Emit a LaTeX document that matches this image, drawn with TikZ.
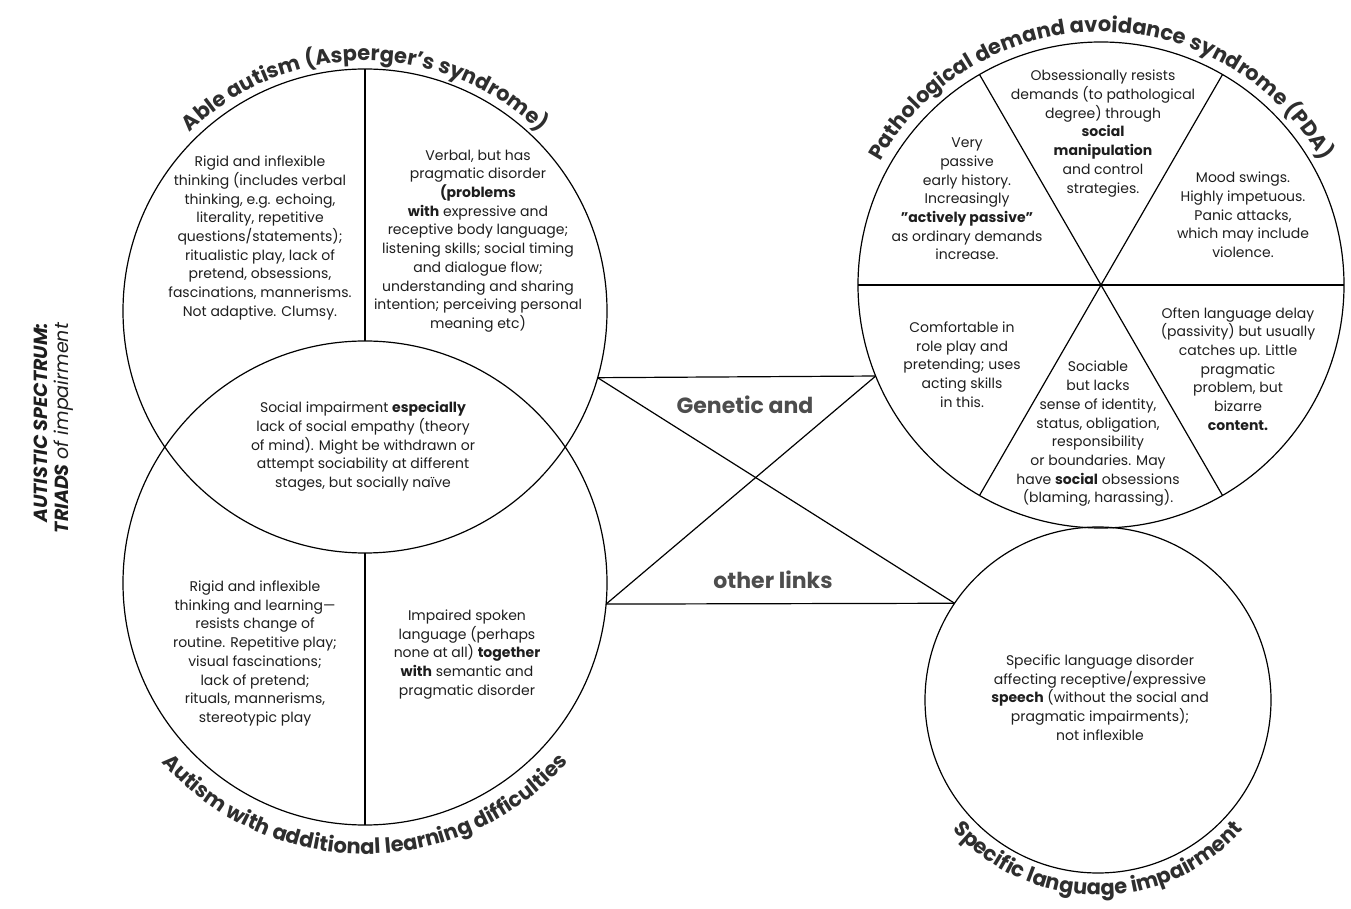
\documentclass[tikz,border=0pt]{standalone}
\usepackage{fontspec}
\setmainfont{Poppins}
\usetikzlibrary{decorations.text}
\definecolor{ink}{HTML}{1E1E1E}
\definecolor{titleink}{HTML}{2E2E2E}
\newcommand{\mytitlefont}{\fontsize{21}{21}\selectfont\bfseries}
\begin{document}
\begin{tikzpicture}[x=1pt,y=1pt,
  circ/.style={draw, circle, line width=1.2pt, inner sep=0pt, outer sep=0pt},
  body/.style={align=center, inner sep=0pt, text=ink, font=\fontsize{14}{18.7}\selectfont},
  link/.style={line width=1.2pt},
  bigtxt/.style={font=\fontsize{22}{22}\selectfont\bfseries, text=titleink!85!white, inner sep=0pt},
  arctitle/.style={decorate, decoration={text along path, text align=center, text color=titleink}}
]
\useasboundingbox (0,0) rectangle (1351,908);

% circles
\node[circ, minimum size=484pt] (A) at (365,597) {};
\node[circ, minimum size=484pt] (B) at (365,325) {};
\node[circ, minimum size=486pt] (P) at (1101,623) {};
\node[circ, minimum size=346pt] (S) at (1098,208) {};

% dividers
\draw[link] (A.north) -- (B.north);
\draw[link] (A.south) -- (B.south);
\draw[link] (P.west) -- (P.east);
\draw[link] (P.60) -- (P.240);
\draw[link] (P.120) -- (P.300);

% links
\draw[link] (A.-16.3) -- (P.202.8);
\draw[link] (B.-5) -- (S.146.3);
\draw[link] (A.-16.3) -- (S.146.3);
\draw[link] (B.-5) -- (P.202.8);

% arc titles
\path[arctitle, decoration={text={|\mytitlefont|Able autism (Asperger's syndrome)}}]
  ([shift={(150:250)}]A.center) arc[start angle=150, end angle=30, radius=250];
\path[arctitle, decoration={text={|\mytitlefont|Autism with additional learning difficulties}}]
  ([shift={(-165:271)}]B.center) arc[start angle=-165, end angle=-15, radius=271];
\path[arctitle, decoration={text={|\mytitlefont|Pathological demand avoidance syndrome (PDA)}}]
  ([shift={(170:253)}]P.center) arc[start angle=170, end angle=10, radius=253];
\path[arctitle, decoration={text={|\mytitlefont|Specific language impairment}}]
  ([shift={(-160:195)}]S.center) arc[start angle=-160, end angle=-20, radius=195];

% side title
\node[rotate=90, align=right, text=ink, inner sep=0pt, font=\fontsize{19}{21}\selectfont] (side) at (54,480)
  {\textbf{\textit{AUTISTIC SPECTRUM:}}\\\textbf{\textit{TRIADS}} \textit{of impairment}};

% able autism
\node[body] (a1) at (260,670) {Rigid and inflexible\\thinking (includes verbal\\thinking, e.g. echoing,\\literality, repetitive\\questions/statements);\\ritualistic play, lack of\\pretend, obsessions,\\fascinations, mannerisms.\\Not adaptive. Clumsy.};
\node[body] (a2) at (478,667) {Verbal, but has\\pragmatic disorder\\\textbf{(problems}\\\textbf{with} expressive and\\receptive body language;\\listening skills; social timing\\and dialogue flow;\\understanding and sharing\\intention; perceiving personal\\meaning etc)};
\node[body] (lens) at (363,461.5) {Social impairment \textbf{especially}\\lack of social empathy (theory\\of mind). Might be withdrawn or\\attempt sociability at different\\stages, but socially naïve};
\node[body] (b1) at (255,254.5) {Rigid and inflexible\\thinking and learning—\\resists change of\\routine. Repetitive play;\\visual fascinations;\\lack of pretend;\\rituals, mannerisms,\\stereotypic play};
\node[body] (b2) at (467,253.5) {Impaired spoken\\language (perhaps\\none at all) \textbf{together}\\\textbf{with} semantic and\\pragmatic disorder};

% PDA
\node[body] (p1) at (967,709) {Very\\passive\\early history.\\Increasingly\\\textbf{"actively passive"}\\as ordinary demands\\increase.};
\node[body] (p2) at (1103,774.5) {Obsessionally resists\\demands (to pathological\\degree) through\\\textbf{social}\\\textbf{manipulation}\\and control\\strategies.};
\node[body] (p3) at (1243,693) {Mood swings.\\Highly impetuous.\\Panic attacks,\\which may include\\violence.};
\node[body] (p4) at (962,543.5) {Comfortable in\\role play and\\pretending; uses\\acting skills\\in this.};
\node[body] (p5) at (1098,474) {Sociable\\but lacks\\sense of identity,\\status, obligation,\\responsibility\\or boundaries. May\\have \textbf{social} obsessions\\(blaming, harassing).};
\node[body] (p6) at (1238,539) {Often language delay\\(passivity) but usually\\catches up. Little\\pragmatic\\problem, but\\bizarre\\\textbf{content.}};

% SLI
\node[body] (s1) at (1100,210.5) {Specific language disorder\\affecting receptive/expressive\\\textbf{speech} (without the social and\\pragmatic impairments);\\not inflexible};

% link labels
\node[bigtxt] (gen) at (745,503) {Genetic and};
\node[bigtxt] (oth) at (773,328) {other links};
\end{tikzpicture}
\end{document}
